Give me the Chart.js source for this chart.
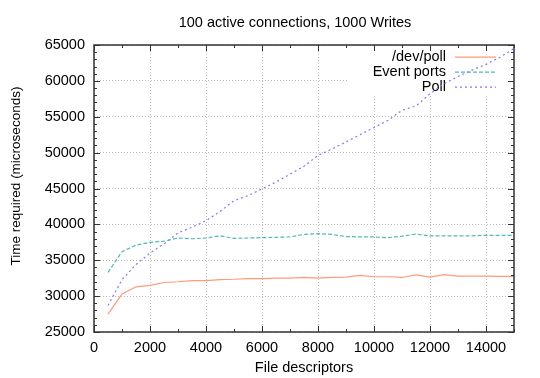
<!DOCTYPE html>
<html>
<head>
<meta charset="utf-8">
<script src="https://cdn.jsdelivr.net/npm/chart.js@4/dist/chart.umd.min.js"></script>
<style>
html,body{margin:0;padding:0;background:#fff;}
#wrap{width:540px;height:378px;position:relative;}
</style>
</head>
<body>
<div id="wrap"><canvas id="c" width="540" height="378"></canvas></div>
<script>
const fileDescriptors = [500,1000,1500,2000,2500,3000,3500,4000,4500,5000,5500,6000,6500,7000,7500,8000,8500,9000,9500,10000,10500,11000,11500,12000,12500,13000,13500,14000,14500,15000];
const devPoll = [27500,30300,31300,31500,31900,32000,32150,32150,32300,32350,32450,32450,32500,32500,32600,32500,32600,32650,32900,32700,32700,32600,32950,32650,33000,32780,32780,32780,32750,32750];
const eventPorts = [33300,36200,37100,37500,37650,38100,38000,38100,38400,38050,38100,38150,38200,38250,38600,38700,38600,38300,38250,38250,38150,38350,38650,38400,38400,38400,38400,38480,38480,38480];
const poll = [28700,32300,34400,36000,37300,38800,39600,40500,41800,43300,44000,44950,45900,47000,48100,49600,50500,51500,52500,53500,54500,55900,56500,58200,59600,60600,61500,62300,63300,64500];
const xTickValues = [0,2000,4000,6000,8000,10000,12000,14000];
const yTickValues = [25000,30000,35000,40000,45000,50000,55000,60000,65000];
const seriesNames = ['/dev/poll','Event ports','Poll'];
const titleText = '100 active connections, 1000 Writes';
const xTitle = 'File descriptors';
const yTitle = 'Time required (microseconds)';

const FONT = 'Liberation Sans, Arial, Helvetica, sans-serif';
const colors = ['#ff9a7a','#55b8b8','#7b7bff'];
const dashes = [[],[4,2],[2,3]];

const toPts = arr => arr.map((v,i)=>({x:fileDescriptors[i], y:v}));

const gnuPlugin = {
  id:'gnuKey',
  beforeDatasetsDraw(chart){
    const {ctx, chartArea:a} = chart;
    ctx.save();
    ctx.fillStyle='#fff';
    ctx.fillRect(a.left+254, a.top+1, a.right-a.left-255, 50);
    ctx.font = '14.5px '+FONT;
    ctx.textAlign='right';
    ctx.textBaseline='middle';
    seriesNames.forEach((name,i)=>{
      const y = a.top + 12 + i*15;
      ctx.fillStyle='#000';
      ctx.fillText(name, a.left+352, y);
      ctx.strokeStyle = colors[i];
      ctx.lineWidth = 1.3;
      ctx.setLineDash(dashes[i]);
      ctx.beginPath();
      ctx.moveTo(a.left+361, y+0.2);
      ctx.lineTo(a.left+402, y+0.2);
      ctx.stroke();
    });
    ctx.restore();
  },
  afterDraw(chart){
    const {ctx, chartArea:a, scales:{x,y}} = chart;
    ctx.save();
    ctx.strokeStyle='#333';
    ctx.lineWidth=1;
    ctx.setLineDash([]);
    ctx.beginPath();
    for(let v=0; v<=15000; v+=1000){
      const px = Math.round(x.getPixelForValue(v))+0.5;
      const L = (v%2000===0)?6:3;
      ctx.moveTo(px,a.bottom); ctx.lineTo(px,a.bottom-L);
      ctx.moveTo(px,a.top); ctx.lineTo(px,a.top+L);
    }
    for(let v=25000; v<=65000; v+=1000){
      const py = Math.round(y.getPixelForValue(v))+0.5;
      const L = (v%5000===0)?6:3;
      ctx.moveTo(a.left,py); ctx.lineTo(a.left+L,py);
      ctx.moveTo(a.right,py); ctx.lineTo(a.right-L,py);
    }
    ctx.stroke();
    ctx.lineWidth=1.5;
    ctx.strokeRect(a.left, a.top, a.right-a.left, a.bottom-a.top);
    ctx.fillStyle='#000';
    ctx.font='14.5px '+FONT;
    ctx.textAlign='center';
    ctx.textBaseline='middle';
    ctx.fillText(titleText, 295, 23);
    ctx.font='13.5px '+FONT;
    ctx.translate(16, 176);
    ctx.rotate(-Math.PI/2);
    ctx.fillText(yTitle, 0, 0);
    ctx.restore();
  }
};

new Chart(document.getElementById('c'), {
  type:'line',
  data:{
    datasets:[
      {label:seriesNames[0], data:toPts(devPoll), borderColor:colors[0], borderDash:dashes[0]},
      {label:seriesNames[1], data:toPts(eventPorts), borderColor:colors[1], borderDash:dashes[1]},
      {label:seriesNames[2], data:toPts(poll), borderColor:colors[2], borderDash:dashes[2]}
    ].map(d=>Object.assign(d,{borderWidth:1.2, pointRadius:0, fill:false, tension:0}))
  },
  options:{
    responsive:false,
    animation:false,
    devicePixelRatio:1,
    layout:{padding:{left:0,right:26,top:45,bottom:0}},
    plugins:{
      legend:{display:false},
      tooltip:{enabled:false},
      title:{display:false}
    },
    scales:{
      x:{
        type:'linear', min:0, max:15000,
        afterBuildTicks(s){ s.ticks = xTickValues.map(v=>({value:v})); },
        ticks:{color:'#000', font:{family:FONT,size:14.5}, padding:7, maxRotation:0, autoSkip:false, callback:v=>String(v)},
        grid:{color:'#bbb', drawTicks:false},
        border:{display:false, dash:[1,2]},
        title:{display:true, text:xTitle, color:'#000', font:{family:FONT,size:14.5}, padding:{top:0,bottom:1}},
        afterFit(s){ s.height = 46; }
      },
      y:{
        type:'linear', min:25000, max:65000,
        afterBuildTicks(s){ s.ticks = yTickValues.map(v=>({value:v})); },
        ticks:{color:'#000', font:{family:FONT,size:14.5}, padding:9, autoSkip:false, callback:v=>String(v)},
        grid:{color:'#bbb', drawTicks:false},
        border:{display:false, dash:[1,2]},
        title:{display:false},
        afterFit(s){ s.width = 94; }
      }
    }
  },
  plugins:[gnuPlugin]
});
</script>
</body>
</html>
